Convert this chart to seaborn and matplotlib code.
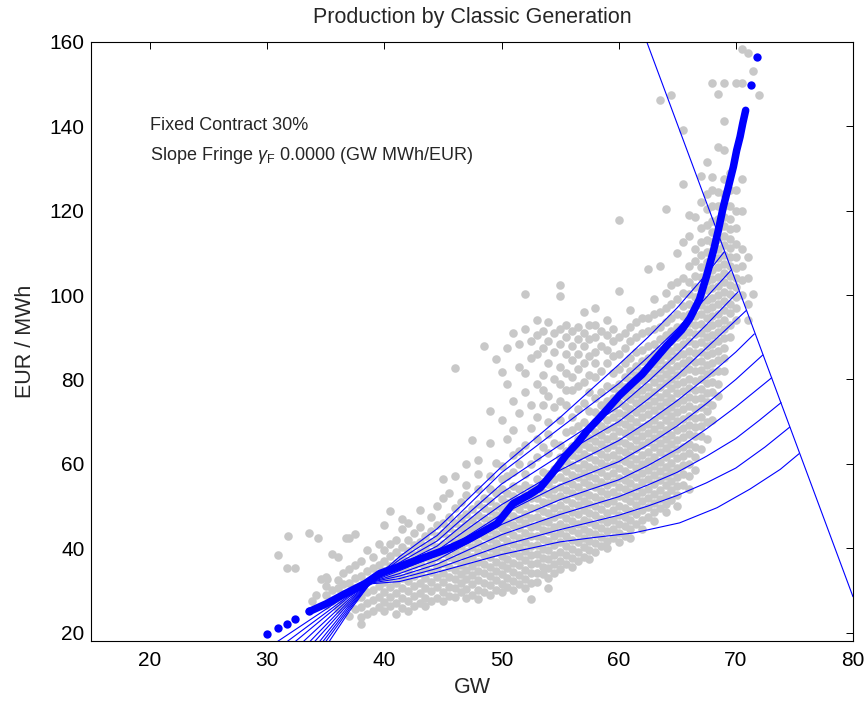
import matplotlib
matplotlib.use("Agg")
import matplotlib.pyplot as plt
import pandas as pd
import seaborn as sns

# ---------------------------------------------------------------------------
# data
# ---------------------------------------------------------------------------

# observed hourly prices (EUR/MWh) against classic production (GW), grey cloud,
# listed column by column
grey_col_x = [35.0, 35.5, 36.0, 36.5, 37.0, 37.5, 38.0, 38.5, 39.0, 39.5,
              40.0, 40.5, 41.0, 41.5, 42.0, 42.5, 43.0, 43.5, 44.0, 44.5,
              45.0, 45.5, 46.0, 46.5, 47.0, 47.5, 48.0, 48.5, 49.0, 49.5,
              50.0, 50.5, 51.0, 51.5, 52.0, 52.5, 53.0, 53.5, 54.0, 54.5,
              55.0, 55.5, 56.0, 56.5, 57.0, 57.5, 58.0, 58.5, 59.0, 59.5,
              60.0, 60.5, 61.0, 61.5, 62.0, 62.5, 63.0, 63.5, 64.0, 64.5,
              65.0, 65.5, 66.0, 66.5, 67.0, 67.5, 68.0, 68.5, 69.0, 69.5,
              70.0, 70.5, 71.0, 71.5, 72.0]
grey_col_y = [
    [26.5, 28.8, 31.0, 33.2],
    [27.5, 30.0, 38.6],
    [25.5, 28.0, 30.5, 32.5, 38.0],
    [26.8, 29.2, 31.5, 34.0],
    [24.0, 27.0, 29.5, 31.8, 35.0, 42.5],
    [25.5, 28.2, 30.5, 33.0, 36.0, 43.4],
    [22.1, 23.6, 26.0, 28.5, 30.8, 33.5, 37.0],
    [24.5, 27.0, 29.5, 32.0, 34.5, 39.5],
    [25.0, 27.8, 30.2, 32.8, 35.3, 38.0],
    [26.0, 28.5, 31.0, 33.5, 36.0, 41.0],
    [25.0, 27.3, 29.6, 32.0, 34.5, 37.0, 39.5, 45.5],
    [26.2, 28.5, 30.8, 33.2, 35.7, 38.2, 41.0, 48.7],
    [24.5, 27.0, 29.4, 31.8, 34.2, 36.6, 39.0, 42.0],
    [25.8, 28.2, 30.6, 33.0, 35.4, 37.8, 40.3, 44.5, 47.0],
    [25.0, 27.4, 29.8, 32.2, 34.6, 37.0, 39.4, 42.0, 46.0],
    [26.3, 28.7, 31.1, 33.5, 35.9, 38.3, 40.8, 43.5],
    [27.0, 29.4, 31.8, 34.2, 36.6, 39.0, 41.5, 45.0, 49.0],
    [26.2, 28.3, 30.6, 33.0, 35.4, 37.8, 40.3, 42.8],
    [27.5, 29.8, 32.1, 34.4, 36.7, 39.0, 41.4, 44.0, 47.5],
    [28.3, 30.8, 33.2, 35.6, 38.0, 40.4, 42.8, 45.5, 50.0],
    [27.4, 29.6, 31.9, 34.2, 36.5, 38.8, 41.1, 43.5, 46.0, 52.0, 56.5],
    [28.6, 30.9, 33.2, 35.5, 37.8, 40.1, 42.4, 44.8, 47.5, 53.0],
    [28.5, 30.5, 32.7, 34.9, 37.1, 39.3, 41.5, 43.7, 46.0, 49.5, 57.0, 82.7],
    [29.5, 31.7, 33.9, 36.1, 38.3, 40.5, 42.7, 44.9, 47.2, 51.0],
    [28.3, 30.4, 32.6, 34.8, 37.0, 39.2, 41.4, 43.6, 45.8, 48.2, 52.5, 55.0, 60.0],
    [29.0, 31.4, 33.6, 35.8, 38.0, 40.2, 42.4, 44.6, 46.8, 49.2, 65.7],
    [28.0, 30.2, 32.4, 34.6, 36.8, 39.0, 41.2, 43.4, 45.6, 47.8, 50.5, 54.0, 57.5, 61.0],
    [29.6, 31.8, 34.0, 36.2, 38.4, 40.6, 42.8, 45.0, 47.2, 49.5, 52.0, 88.0],
    [29.0, 31.2, 33.4, 35.6, 37.8, 40.0, 42.2, 44.4, 46.6, 48.8, 51.2, 54.0, 57.0, 65.0, 72.6],
    [30.2, 32.4, 34.6, 36.8, 39.0, 41.2, 43.4, 45.6, 47.8, 50.0, 53.0, 60.2, 84.8],
    [29.5, 31.6, 33.8, 36.0, 38.2, 40.4, 42.6, 44.8, 47.0, 49.3, 51.6, 54.0, 56.5, 59.5,
     70.5, 81.7],
    [30.8, 33.0, 35.2, 37.4, 39.6, 41.8, 44.0, 46.2, 48.4, 50.7, 53.0, 57.0, 66.0, 79.0,
     87.5],
    [30.0, 32.2, 34.4, 36.6, 38.8, 41.0, 43.2, 45.4, 47.6, 50.0, 52.3, 54.7, 58.0, 62.0,
     68.0, 75.0, 91.0],
    [31.5, 33.7, 35.9, 38.1, 40.3, 42.5, 44.7, 46.9, 49.2, 51.5, 54.0, 60.0, 63.0, 72.0,
     83.0, 88.5],
    [30.5, 32.7, 34.9, 37.1, 39.3, 41.5, 43.7, 45.9, 48.1, 50.4, 52.7, 55.0, 57.5, 64.5,
     77.0, 81.5, 92.0, 100.3],
    [28.0, 31.8, 34.0, 36.2, 38.4, 40.6, 42.8, 45.0, 47.2, 49.5, 51.8, 54.2, 60.0, 68.5,
     74.0, 85.0, 89.0],
    [32.0, 34.2, 36.4, 38.6, 40.8, 43.0, 45.2, 47.4, 49.6, 51.9, 54.2, 56.5, 61.5, 66.0,
     71.0, 79.0, 86.0, 90.5, 94.0],
    [33.8, 35.5, 37.7, 39.9, 42.1, 44.3, 46.5, 48.7, 51.0, 53.3, 55.6, 58.0, 64.0, 74.0,
     77.5, 81.0, 87.5, 91.5],
    [30.6, 33.0, 35.2, 37.4, 39.6, 41.8, 44.0, 46.2, 48.4, 50.6, 52.9, 55.2, 57.6, 62.5,
     67.0, 70.0, 76.0, 84.0, 89.0, 93.5],
    [34.0, 36.3, 38.5, 40.7, 42.9, 45.1, 47.3, 49.5, 51.8, 54.1, 56.4, 58.8, 65.0, 73.5,
     80.0, 86.5, 91.0],
    [35.0, 37.0, 39.2, 41.4, 43.6, 45.8, 48.0, 50.2, 52.4, 54.6, 56.9, 59.2, 61.6, 64.5,
     70.5, 75.0, 79.0, 83.0, 88.5, 92.0, 99.7, 102.4],
    [36.3, 38.4, 40.6, 42.8, 45.0, 47.2, 49.4, 51.6, 53.8, 56.0, 58.3, 60.6, 63.0, 67.5,
     74.0, 77.5, 81.5, 86.0, 90.0, 93.0],
    [35.5, 37.6, 39.8, 42.0, 44.2, 46.4, 48.6, 50.8, 53.0, 55.2, 57.4, 59.7, 62.0, 64.3,
     68.0, 71.0, 77.5, 80.5, 84.5, 88.0, 91.5],
    [37.0, 39.2, 41.4, 43.6, 45.8, 48.0, 50.2, 52.4, 54.6, 56.8, 59.0, 61.3, 63.6, 66.0,
     69.0, 73.0, 78.5, 82.5, 86.0, 89.5, 92.5],
    [38.0, 40.2, 42.4, 44.6, 46.8, 49.0, 51.2, 53.4, 55.6, 57.8, 60.0, 62.3, 64.6, 67.0,
     70.0, 74.5, 79.5, 84.0, 88.0, 91.0, 96.0],
    [37.5, 39.5, 41.7, 43.9, 46.1, 48.3, 50.5, 52.7, 54.9, 57.1, 59.3, 61.6, 63.9, 66.2,
     68.5, 72.5, 77.0, 81.0, 85.5, 89.5, 93.0],
    [39.0, 41.2, 43.4, 45.6, 47.8, 50.0, 52.2, 54.4, 56.6, 58.8, 61.0, 63.2, 65.4, 67.6,
     69.9, 72.2, 75.5, 80.5, 84.0, 86.5, 90.0, 93.0, 97.0],
    [40.5, 42.6, 44.8, 47.0, 49.2, 51.4, 53.6, 55.8, 58.0, 60.2, 62.4, 64.6, 66.8, 69.0,
     71.5, 74.0, 77.0, 82.0, 88.0, 91.5],
    [40.0, 41.8, 44.0, 46.2, 48.4, 50.6, 52.8, 55.0, 57.2, 59.4, 61.6, 63.8, 66.0, 68.2,
     70.4, 72.7, 75.0, 78.5, 84.0, 87.0, 90.5, 94.0],
    [42.5, 44.6, 46.8, 49.0, 51.2, 53.4, 55.6, 57.8, 60.0, 62.2, 64.4, 66.6, 68.8, 71.0,
     73.3, 75.6, 78.0, 81.5, 85.5, 89.0, 92.0],
    [41.5, 43.5, 45.7, 47.9, 50.1, 52.3, 54.5, 56.7, 58.9, 61.1, 63.3, 65.5, 67.7, 69.9,
     72.1, 74.4, 76.7, 79.0, 82.5, 86.0, 90.0, 101.0, 117.8],
    [43.0, 45.2, 47.4, 49.6, 51.8, 54.0, 56.2, 58.4, 60.6, 62.8, 65.0, 67.2, 69.4, 71.6,
     73.8, 76.0, 78.3, 80.6, 84.0, 87.5, 91.0],
    [42.5, 44.5, 46.7, 48.9, 51.1, 53.3, 55.5, 57.7, 59.9, 62.1, 64.3, 66.5, 68.7, 70.9,
     73.1, 75.3, 77.5, 79.8, 82.1, 85.0, 89.0, 92.5, 96.5],
    [45.8, 48.0, 50.2, 52.4, 54.6, 56.8, 59.0, 61.2, 63.4, 65.6, 67.8, 70.0, 72.2, 74.4,
     76.6, 78.8, 81.0, 83.3, 86.5, 90.0, 93.5],
    [44.5, 46.8, 49.0, 51.2, 53.4, 55.6, 57.8, 60.0, 62.2, 64.4, 66.6, 68.8, 71.0, 73.2,
     75.4, 77.6, 79.8, 82.0, 84.3, 87.0, 91.0, 94.5],
    [47.5, 49.7, 51.9, 54.1, 56.3, 58.5, 60.7, 62.9, 65.1, 67.3, 69.5, 71.7, 73.9, 76.1,
     78.3, 80.5, 82.7, 85.0, 88.0, 91.5, 94.5, 106.1],
    [46.5, 48.5, 50.7, 52.9, 55.1, 57.3, 59.5, 61.7, 63.9, 66.1, 68.3, 70.5, 72.7, 74.9,
     77.1, 79.3, 81.5, 83.7, 86.0, 88.5, 92.0, 95.5, 99.0],
    [49.5, 51.7, 53.9, 56.1, 58.3, 60.5, 62.7, 64.9, 67.1, 69.3, 71.5, 73.7, 75.9, 78.1,
     80.3, 82.5, 84.7, 87.0, 89.5, 92.5, 96.0, 107.0, 146.3],
    [48.5, 50.5, 52.7, 54.9, 57.1, 59.3, 61.5, 63.7, 65.9, 68.1, 70.3, 72.5, 74.7, 76.9,
     79.1, 81.3, 83.5, 85.7, 88.0, 90.5, 93.5, 97.0, 100.5, 120.5],
    [51.5, 53.7, 55.9, 58.1, 60.3, 62.5, 64.7, 66.9, 69.1, 71.3, 73.5, 75.7, 77.9, 80.1,
     82.3, 84.5, 86.7, 89.0, 91.5, 94.5, 98.0, 102.5, 147.4],
    [50.0, 52.5, 54.7, 56.9, 59.1, 61.3, 63.5, 65.7, 67.9, 70.1, 72.3, 74.5, 76.7, 78.9,
     81.1, 83.3, 85.5, 87.7, 90.0, 92.5, 95.5, 99.0, 103.0, 110.0],
    [55.0, 57.5, 59.7, 61.9, 64.1, 66.3, 68.5, 70.7, 72.9, 75.1, 77.3, 79.5, 81.7, 83.9,
     86.1, 88.3, 90.5, 92.7, 95.0, 97.5, 100.5, 104.0, 112.5, 126.3, 139.1],
    [54.0, 57.0, 60.0, 62.5, 64.8, 67.0, 69.2, 71.4, 73.6, 75.8, 78.0, 80.2, 82.4, 84.6,
     86.8, 89.0, 91.2, 93.4, 95.6, 97.9, 100.2, 103.0, 107.0, 114.0, 119.0],
    [58.5, 61.5, 64.0, 66.5, 68.7, 70.9, 73.1, 75.3, 77.5, 79.7, 81.9, 84.1, 86.3, 88.5,
     90.7, 92.9, 95.1, 97.3, 99.5, 101.8, 104.5, 108.0, 111.0, 118.5],
    [63.5, 66.5, 69.0, 71.2, 73.4, 75.6, 77.8, 80.0, 82.2, 84.4, 86.6, 88.8, 91.0, 93.2,
     95.4, 97.6, 99.8, 102.0, 104.3, 106.6, 109.5, 112.5, 116.0, 122.0, 128.2],
    [66.0, 70.0, 72.5, 74.7, 76.9, 79.1, 81.3, 83.5, 85.7, 87.9, 90.1, 92.3, 94.5, 96.7,
     98.9, 101.1, 103.3, 105.5, 107.8, 110.1, 113.0, 116.5, 120.5, 124.0, 131.6],
    [70.5, 74.0, 77.0, 79.5, 81.8, 84.0, 86.2, 88.4, 90.6, 92.8, 95.0, 97.2, 99.4, 101.6,
     103.8, 106.0, 108.2, 110.4, 112.7, 115.0, 117.5, 121.0, 125.0, 128.0, 150.2],
    [76.0, 79.0, 82.0, 84.5, 86.8, 89.0, 91.2, 93.4, 95.6, 97.8, 100.0, 102.2, 104.4,
     106.6, 108.8, 111.0, 113.3, 115.6, 118.0, 121.0, 124.5, 135.0, 147.6],
    [82.0, 85.0, 87.5, 89.8, 92.0, 94.2, 96.4, 98.6, 100.8, 103.0, 105.2, 107.4, 109.6,
     111.8, 114.0, 116.3, 118.6, 121.0, 124.0, 127.5, 134.3, 141.2, 150.2],
    [90.0, 93.0, 95.8, 98.0, 100.2, 102.4, 104.6, 106.8, 109.0, 111.2, 113.4, 115.7,
     118.0, 121.0, 125.0, 129.0],
    [94.0, 97.0, 99.5, 101.8, 104.0, 106.5, 109.0, 112.0, 116.0, 120.0, 125.0, 150.2],
    [100.0, 103.5, 107.0, 111.0, 120.0, 127.5, 150.2, 158.4],
    [94.0, 98.0, 104.0, 109.0, 157.3],
    [100.3, 153.1],
    [147.4],
]

# a few isolated observations left of the cloud
stray_x = [30.9, 31.7, 32.4, 31.8, 33.6, 34.3, 34.6, 35.1, 36.7, 34.2, 33.8]
stray_y = [38.3, 35.4, 35.4, 42.9, 43.6, 42.3, 32.8, 32.8, 42.3, 29.0, 27.5]

# classic generation supply curve (thick blue): isolated dots at the tails
supply_dots_x = [30.0, 30.9, 31.7, 32.4, 33.6, 71.3, 71.8]
supply_dots_y = [19.7, 21.1, 22.0, 23.2, 25.0, 149.7, 156.4]
# ... and the dense central part
supply_x = [33.6, 35.1, 36.5, 38.4, 39.6, 42.5, 45.3, 47.0, 48.2, 49.6, 51.0, 52.4,
            53.3, 54.4, 55.5, 56.5, 57.3, 58.4, 60.1, 61.25, 62.0, 64.1, 65.4, 66.1,
            66.9, 67.5, 68.1, 68.5, 68.93, 69.36, 69.79, 70.07, 70.36, 70.59, 70.84]
supply_y = [25.0, 26.9, 29.0, 31.7, 34.0, 36.9, 39.7, 41.8, 43.6, 45.8, 50.6, 52.7,
            54.3, 58.0, 62.0, 65.0, 67.8, 71.0, 76.3, 79.3, 81.2, 88.0, 91.8, 94.6,
            99.0, 104.5, 110.6, 115.3, 120.9, 125.6, 130.4, 134.3, 137.5, 140.7, 143.8]

# residual-demand fan (thin blue), steepest first
fan_x = [
    [35.2, 37, 39, 41.3, 44.5, 50, 55, 60, 62.5, 65, 67.5, 69.0],
    [34.9, 37, 39, 41.3, 44.5, 50, 55, 60, 62.5, 65, 67.5, 69.56],
    [34.65, 37, 39, 41.3, 44.5, 50, 55, 60, 62.5, 65, 67.5, 70.2],
    [34.36, 37, 39, 41.3, 44.5, 50, 55, 60, 62.5, 65, 67.5, 70.87],
    [33.93, 37, 39, 41.3, 44.5, 50, 55, 60, 62.5, 65, 67.5, 70, 71.58],
    [33.51, 37, 39, 41.3, 44.5, 50, 55, 60, 62.5, 65, 67.5, 70, 72.3],
    [32.94, 37, 39, 41.3, 44.5, 50, 55, 60, 62.5, 65, 67.5, 70, 73.06],
    [32.23, 37, 39, 41.3, 44.5, 50, 55, 60, 62.5, 65, 67.5, 70, 72.0, 73.86],
    [31.52, 37, 39, 41.3, 44.5, 50, 55, 60, 62.5, 65, 67.5, 70, 72.5, 74.6],
    [30.67, 37, 39, 41.3, 44.5, 50, 55, 58.1, 61.25, 65.2, 68.4, 71.2, 73.8, 75.4],
]
fan_y = [
    [17.5, 25.0, 32.4, 38.0, 44.6, 59.3, 71.0, 83.5, 90.0, 97.0, 105.0, 110.2],
    [17.5, 25.5, 32.4, 37.3, 43.0, 57.9, 68.5, 79.0, 85.3, 92.0, 99.5, 105.8],
    [17.5, 26.0, 32.4, 36.6, 41.7, 55.2, 64.5, 73.5, 79.5, 86.0, 93.0, 100.8],
    [17.5, 26.5, 32.3, 36.0, 40.5, 53.1, 62.0, 70.0, 75.3, 81.0, 87.5, 96.3],
    [17.5, 27.0, 32.3, 35.3, 39.4, 50.3, 58.5, 65.5, 70.0, 75.0, 80.5, 86.5, 90.8],
    [17.5, 27.5, 32.2, 34.7, 38.3, 48.0, 55.0, 60.5, 64.5, 69.0, 74.3, 80.0, 85.8],
    [17.5, 28.0, 32.1, 34.0, 37.2, 45.6, 51.5, 56.2, 59.6, 63.5, 68.3, 73.5, 80.4],
    [17.5, 28.5, 32.0, 33.4, 36.2, 43.2, 48.0, 52.2, 55.0, 58.0, 61.8, 66.0, 70.3, 74.5],
    [17.5, 28.8, 31.8, 32.8, 35.2, 40.6, 44.4, 47.8, 50.0, 52.5, 55.5, 59.0, 64.0, 68.7],
    [17.5, 29.2, 31.6, 32.1, 34.3, 38.5, 41.5, 42.6, 43.6, 46.0, 49.6, 54.0, 58.7, 62.4],
]

# capacity line closing the fan
cap_x = [62.4, 80.0]
cap_y = [160.0, 28.5]

x_ticks = [20, 30, 40, 50, 60, 70, 80]
y_ticks = [20, 40, 60, 80, 100, 120, 140, 160]

BLUE = "#0000ff"
GREY = "#c8c8c8"

sns.set_style("white")
plt.rcParams["font.family"] = ["Liberation Sans", "DejaVu Sans"]
plt.rcParams["mathtext.fontset"] = "custom"
plt.rcParams["mathtext.rm"] = "Liberation Sans"
plt.rcParams["mathtext.it"] = "Liberation Sans:italic"

rows = [(x, y) for x, col in zip(grey_col_x, grey_col_y) for y in col]
rows += list(zip(stray_x, stray_y))
grey = pd.DataFrame(rows, columns=["gw", "price"])

fig = plt.figure(figsize=(8.68, 7.03), dpi=100)
ax = fig.add_axes([0.1054, 0.0882, 0.8773, 0.8521])

sns.scatterplot(data=grey, x="gw", y="price", ax=ax, color=GREY, s=38,
                linewidth=0, legend=False, zorder=1)

for fx, fy in zip(fan_x, fan_y):
    sns.lineplot(x=fx, y=fy, ax=ax, sort=False, estimator=None,
                 color=BLUE, lw=0.8, zorder=2)

sns.lineplot(x=cap_x, y=cap_y, ax=ax, sort=False, estimator=None,
             color=BLUE, lw=0.8, zorder=2)

sns.lineplot(x=supply_x, y=supply_y, ax=ax, sort=False, estimator=None,
             color=BLUE, lw=5.4, solid_capstyle="round", zorder=3)
ax.plot(supply_dots_x, supply_dots_y, "o", color=BLUE, ms=6, mew=0, zorder=3)

ax.text(20, 139.1, "Fixed Contract 30%", fontsize=13, va="baseline")
ax.text(20, 132.0, r"Slope Fringe $\gamma_{\mathrm{F}}$ 0.0000 (GW MWh/EUR)",
        fontsize=13, va="baseline")

ax.set_xlim(15, 80)
ax.set_ylim(18, 160)
ax.set_xticks(x_ticks)
ax.set_yticks(y_ticks)
ax.tick_params(axis="x", direction="in", length=5, width=0.7, top=True,
               labelsize=15, colors="black", pad=7)
ax.tick_params(axis="y", direction="in", length=5, width=0.7, right=True,
               labelsize=15, colors="black", pad=5)
for sp in ax.spines.values():
    sp.set_color("black")
    sp.set_linewidth(0.8)
ax.set_xlabel("GW", fontsize=15.5, labelpad=5)
ax.set_ylabel("EUR / MWh", fontsize=15.5, labelpad=10)
ax.set_title("Production by Classic Generation", fontsize=15.5, pad=14)

fig.savefig("out.png", dpi=100)
